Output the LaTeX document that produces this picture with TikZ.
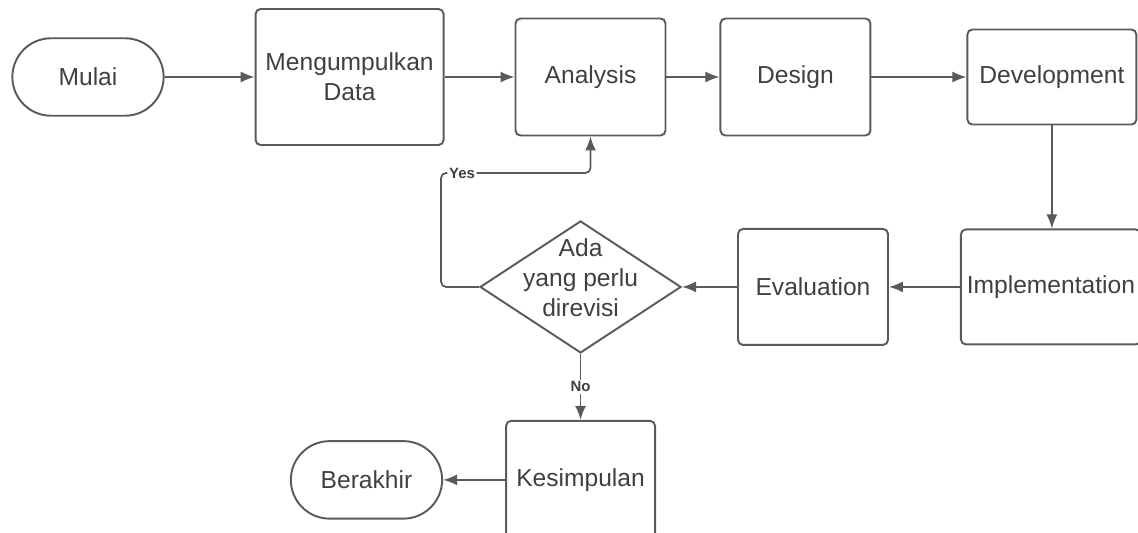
\documentclass[tikz,border=0pt]{standalone}
\usepackage{fontspec}
\setmainfont{Liberation Sans}
\usetikzlibrary{arrows.meta,positioning,shapes.misc,shapes.geometric}
\definecolor{linegray}{HTML}{5A5A5A}
\definecolor{textgray}{HTML}{404040}

\begin{document}
\begin{tikzpicture}[font=\fontsize{14}{17}\selectfont, text=textgray,
        box/.style={draw=linegray, line width=1.1pt, rounded corners=1mm, align=center},
        term/.style={draw=linegray, line width=1.1pt, rounded rectangle, minimum width=3.26cm, minimum height=1.55cm},
        arr/.style={-{Latex[length=2.8mm,width=2.2mm]}, draw=linegray, line width=1pt},
        lbl/.style={font=\bfseries\fontsize{8.5}{9}\selectfont, fill=white, inner sep=1pt}]
        \useasboundingbox (0,0) rectangle (22.76,-10.64);

        % top row
        \node (Mulai) [term] at (1.76,-1.54) {Mulai};
        \node (Data) [box, right=1.8cm of Mulai, minimum width=3.76cm, minimum height=2.72cm] {Mengumpulkan\\Data};
        \node (Anl) [box, right=1.4cm of Data, minimum width=3cm, minimum height=2.34cm] {Analysis};
        \node (Des) [box, right=1.06cm of Anl, minimum width=3cm, minimum height=2.34cm] {Design};
        \node (Dev) [box, right=1.9cm of Des, minimum width=3.38cm, minimum height=1.9cm] {Development};

        % middle row
        \node (Imp) [box, below=2.06cm of Dev, minimum width=3.4cm, minimum height=2.3cm, xshift=-0.02cm] {Implementation};
        \node (Eval) [box, left=1.42cm of Imp, minimum width=3cm, minimum height=2.32cm] {Evaluation};
        \node (Rev) [draw=linegray, line width=1.1pt, diamond, left=1.1cm of Eval, minimum width=4.02cm, minimum height=2.64cm,
            label={[align=center, yshift=1.8mm]center:Ada\\yang perlu\\direvisi}] {};

        % bottom row
        \node (Kes) [box, below=1.32cm of Rev, minimum width=2.98cm, minimum height=2.36cm] {Kesimpulan};
        \node (Akhir) [term, left=1.24cm of Kes] {Berakhir};

        \draw [arr] (Mulai) -- (Data);
        \draw [arr] (Data) -- (Anl);
        \draw [arr] (Anl) -- (Des);
        \draw [arr] (Des) -- (Dev);
        \draw [arr] (Dev) -- (Dev |- Imp.north);
        \draw [arr] (Imp) -- (Eval);
        \draw [arr] (Eval) -- (Rev);
        \draw [arr, rounded corners=1mm] (Rev.west) -| ++(-0.76,2.28) -| node[lbl, pos=0.07] {Yes} (Anl.south);
        \draw [arr] (Rev) -- node[lbl] {No} (Kes);
        \draw [arr] (Kes) -- (Akhir);
    \end{tikzpicture}
\end{document}
